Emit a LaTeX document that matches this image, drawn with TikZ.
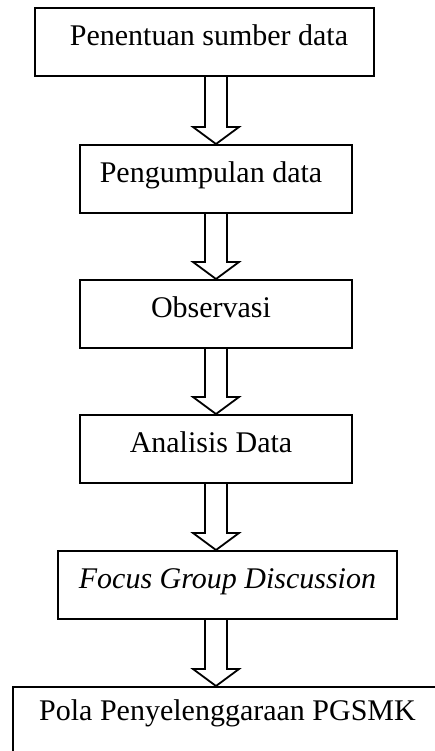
\documentclass[tikz,border=0pt]{standalone}
\usepackage{fontspec}
\setmainfont{Liberation Serif}
\usetikzlibrary{calc}
\tikzset{
  etape/.style={draw, line width=1.8pt, inner sep=0pt, anchor=north,
    minimum height=68pt, text height=38pt, text depth=30pt,
    font=\fontsize{30}{36}\selectfont},
  fleche/.style={draw, line width=1.8pt, line join=miter}
}
\begin{document}
\begin{tikzpicture}[x=1pt, y=-1pt]
              \useasboundingbox (0,0) rectangle (435,751);
              \clip (0,0) rectangle (435,751);

              % Les étapes
              \node[etape, minimum width=339pt] (e1) at (204.5,7) {\hspace*{9pt}Penentuan sumber data};
              \node[etape, minimum width=272pt] (e2) at (216,144) {Pengumpulan data\hspace*{10pt}};
              \node[etape, minimum width=272pt] (e3) at (216,279) {Observasi\hspace*{10pt}};
              \node[etape, minimum width=272pt] (e4) at (216,414) {Analisis Data\hspace*{10pt}};
              \node[etape, minimum width=339pt] (e5) at (227.5,550) {\textit{Focus Group Discussion}};
              \node[etape, minimum width=429pt, text height=34pt, text depth=34pt] (e6) at (227.5,686) {Pola Penyelenggaraan PGSMK};

              % Les flèches
              \coordinate (axe) at (216,0);
              \foreach \a/\b in {e1/e2, e2/e3, e3/e4, e4/e5, e5/e6} {
                \draw[fleche] ($(\a.south -| axe)+(-11,0)$) -- ($(\b.north -| axe)+(-11,-17)$)
                  -- ++(-12,0) -- (\b.north -| axe) -- ++(23,-17) -- ++(-12,0)
                  -- ($(\a.south -| axe)+(11,0)$);
              }
            \end{tikzpicture}
\end{document}
